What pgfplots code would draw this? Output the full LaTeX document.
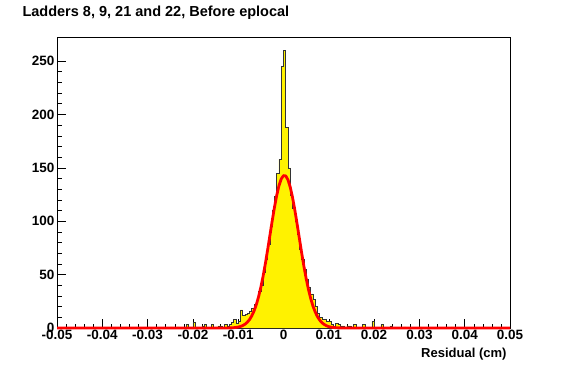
\documentclass[border=0pt]{standalone}
\usepackage{pgfplots}
\pgfplotsset{compat=1.18}
\usepackage{fontspec}
\setmainfont{Liberation Sans}
\begin{document}
\begin{tikzpicture}[x=1pt,y=1pt]
\path[use as bounding box, fill=white] (0,0) rectangle (567,364);
\node[anchor=base west, font=\bfseries\fontsize{14.5}{15}\selectfont] at (19,347) {Ladders 8, 9, 21 and 22, Before eplocal};
\begin{axis}[
  at={(57pt,36pt)}, anchor=south west,
  scale only axis, width=453pt, height=291pt,
  xmin=-0.05, xmax=0.05, ymin=0, ymax=272.5,
  clip=false,
  scaled x ticks=false, scaled y ticks=false,
  axis line style={black, line width=0.5pt},
  tick style={black, line width=0.5pt},
  xtick={-0.05,-0.04,-0.03,-0.02,-0.01,0,0.01,0.02,0.03,0.04,0.05},
  xticklabels={-0.05,-0.04,-0.03,-0.02,-0.01,0,0.01,0.02,0.03,0.04,0.05},
  minor x tick num=4,
  ytick={0,50,100,150,200,250},
  minor y tick num=4,
  xtick pos=bottom, ytick pos=left,
  tick align=inside,
  major tick length=9pt, minor tick length=4.5pt,
  /pgf/number format/assume math mode=true,
  ticklabel style={font=\bfseries\fontsize{13.5}{14}\selectfont},
  xticklabel style={yshift=1pt},
  yticklabel style={xshift=1pt},
  xlabel={Residual (cm)},
  xlabel style={at={(1,0)}, anchor=north east, yshift=-17pt, font=\bfseries\fontsize{13}{13}\selectfont},
]
\addplot[const plot mark left, fill=yellow, draw=black!80, line width=0.6pt] coordinates {
(-0.05,0) (-0.035,1) (-0.0345,0) (-0.025,1) (-0.0245,0) (-0.0235,1) (-0.023,0)
(-0.0215,3) (-0.021,0) (-0.0200,5) (-0.0195,0) (-0.018,2) (-0.0175,3) (-0.017,0)
(-0.016,3) (-0.0155,0) (-0.015,1) (-0.0145,2) (-0.014,2) (-0.0135,1) (-0.013,3)
(-0.0125,2) (-0.012,3) (-0.0115,5) (-0.011,8) (-0.0105,4) (-0.010,6) (-0.0095,17)
(-0.009,12) (-0.0085,13) (-0.008,14) (-0.0075,16) (-0.007,18) (-0.0065,22)
(-0.006,26) (-0.0055,34) (-0.005,40) (-0.0045,52) (-0.004,64) (-0.0035,78)
(-0.003,95) (-0.0025,110) (-0.002,123) (-0.0015,145) (-0.001,158) (-0.0005,245)
(0,260) (0.0005,188) (0.001,150) (0.0015,124) (0.002,112) (0.0025,100) (0.003,88)
(0.0035,74) (0.004,64) (0.0045,55) (0.005,46) (0.0055,38) (0.006,32) (0.0065,27)
(0.007,20) (0.0075,14) (0.008,10) (0.0085,8) (0.009,8) (0.0095,6) (0.01,6)
(0.0105,3) (0.011,2) (0.0115,4) (0.012,3) (0.0125,2) (0.013,2) (0.0135,1)
(0.014,2) (0.0145,2) (0.015,1) (0.0155,3) (0.016,0) (0.0175,3) (0.018,0)
(0.0195,6) (0.02,0) (0.0215,3) (0.022,0) (0.0235,2) (0.024,0) (0.0265,1) (0.027,0)
(0.03,1) (0.0305,0) (0.037,1) (0.0375,0) (0.05,0)
} \closedcycle;
\addplot[red, line width=2.8pt, line join=round] coordinates {
(-0.05,0) (-0.015,0) (-0.013,0.03) (-0.012,0.1) (-0.0115,0.18) (-0.011,0.31) (-0.0105,0.53)
(-0.010,0.89) (-0.0095,1.44) (-0.009,2.29) (-0.0085,3.55) (-0.008,5.37) (-0.0075,7.9)
(-0.007,11.4) (-0.0065,16.0) (-0.006,21.9) (-0.0055,29.3) (-0.005,38.2) (-0.0045,48.6)
(-0.004,60.4) (-0.0035,73.3) (-0.003,86.7) (-0.0025,100.2) (-0.002,112.9) (-0.0015,124.2)
(-0.001,133.3) (-0.0005,139.6) (0,142.7) (0.0005,142.4) (0.001,138.6) (0.0015,131.7)
(0.002,122.1) (0.0025,110.5) (0.003,97.5) (0.0035,84.0) (0.004,70.6) (0.0045,57.9)
(0.005,46.4) (0.0055,36.3) (0.006,27.7) (0.0065,20.6) (0.007,15.0) (0.0075,10.6)
(0.008,7.3) (0.0085,4.9) (0.009,3.3) (0.0095,2.1) (0.010,1.3) (0.0105,0.8) (0.011,0.48)
(0.0115,0.28) (0.012,0.16) (0.013,0.05) (0.015,0) (0.05,0)
};
\end{axis}
\end{tikzpicture}
\end{document}
